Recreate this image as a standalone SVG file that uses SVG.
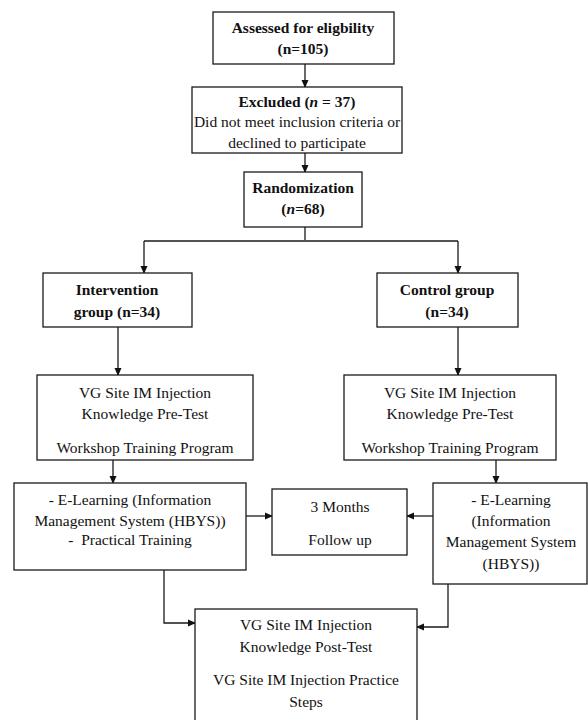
<svg xmlns="http://www.w3.org/2000/svg" width="588" height="720" viewBox="0 0 588 720">
<style>
.box{fill:#fff;stroke:#1a1a1a;stroke-width:1.3}
.t{font-family:"Liberation Serif","Times New Roman",serif;font-size:15.5px;fill:#111;text-anchor:middle}
.b{font-weight:bold}
.c{fill:none;stroke:#1a1a1a;stroke-width:1.3}
</style>
<defs>
<marker id="ah" markerWidth="8" markerHeight="8" refX="7" refY="4" orient="auto" markerUnits="userSpaceOnUse">
<path d="M0,0.5 L8,4 L0,7.5 Z" fill="#111"/>
</marker>
</defs>
<rect width="588" height="720" fill="#fff"/>
<g id="connectors">
<path class="c" d="M305,64 V87" marker-end="url(#ah)"/>
<path class="c" d="M305,153 V172" marker-end="url(#ah)"/>
<path class="c" d="M305,227 V240"/>
<path class="c" d="M144,241 H458"/>
<path class="c" d="M144,241 V273" marker-end="url(#ah)"/>
<path class="c" d="M458,241 V273" marker-end="url(#ah)"/>
<path class="c" d="M118,327 V375" marker-end="url(#ah)"/>
<path class="c" d="M458,327 V375" marker-end="url(#ah)"/>
<path class="c" d="M113,460 V483" marker-end="url(#ah)"/>
<path class="c" d="M496,460 V483" marker-end="url(#ah)"/>
<path class="c" d="M246,516 H272" marker-end="url(#ah)"/>
<path class="c" d="M433,516 H407" marker-end="url(#ah)"/>
<path class="c" d="M164,570 V623 H195" marker-end="url(#ah)"/>
<path class="c" d="M448,584 V627 H417" marker-end="url(#ah)"/>
</g>
<g id="assessed">
<rect class="box" x="213" y="12" width="181" height="52"/>
<text class="t b" x="303" y="33">Assessed for eligbility</text>
<text class="t b" x="303" y="54">(n=105)</text>
</g>
<g id="excluded">
<rect class="box" x="192" y="87" width="210" height="66"/>
<text class="t" x="297" y="107"><tspan class="b">Excluded (</tspan><tspan class="b" font-style="italic">n</tspan><tspan class="b"> = 37)</tspan></text>
<text class="t" x="297" y="127">Did not meet inclusion criteria or</text>
<text class="t" x="297" y="148">declined to participate</text>
</g>
<g id="randomization">
<rect class="box" x="244" y="172" width="118" height="55"/>
<text class="t b" x="303" y="193">Randomization</text>
<text class="t b" x="303" y="214">(<tspan font-style="italic">n</tspan>=68)</text>
</g>
<g id="intervention">
<rect class="box" x="43" y="273" width="149" height="54"/>
<text class="t b" x="117" y="295">Intervention</text>
<text class="t b" x="117" y="317">group (n=34)</text>
</g>
<g id="control">
<rect class="box" x="377" y="273" width="141" height="54"/>
<text class="t b" x="447" y="295">Control group</text>
<text class="t b" x="447" y="317">(n=34)</text>
</g>
<g id="pretest-left">
<rect class="box" x="37" y="375" width="216" height="85"/>
<text class="t" x="145" y="398">VG Site IM Injection</text>
<text class="t" x="145" y="419">Knowledge Pre-Test</text>
<text class="t" x="145" y="453">Workshop Training Program</text>
</g>
<g id="pretest-right">
<rect class="box" x="344" y="375" width="212" height="85"/>
<text class="t" x="450" y="398">VG Site IM Injection</text>
<text class="t" x="450" y="419">Knowledge Pre-Test</text>
<text class="t" x="450" y="453">Workshop Training Program</text>
</g>
<g id="elearning-left">
<rect class="box" x="14" y="483" width="232" height="87"/>
<text class="t" x="130" y="505">- E-Learning (Information</text>
<text class="t" x="130" y="526">Management System (HBYS))</text>
<text class="t" x="130" y="545" xml:space="preserve">-  Practical Training</text>
</g>
<g id="followup">
<rect class="box" x="272" y="489" width="135" height="66"/>
<text class="t" x="340" y="512">3 Months</text>
<text class="t" x="340" y="545">Follow up</text>
</g>
<g id="elearning-right">
<rect class="box" x="433" y="483" width="154" height="101"/>
<text class="t" x="511" y="505">- E-Learning</text>
<text class="t" x="511" y="526">(Information</text>
<text class="t" x="511" y="547">Management System</text>
<text class="t" x="511" y="569">(HBYS))</text>
</g>
<g id="posttest">
<rect class="box" x="195" y="609" width="222" height="120"/>
<text class="t" x="306" y="630">VG Site IM Injection</text>
<text class="t" x="306" y="652">Knowledge Post-Test</text>
<text class="t" x="306" y="685">VG Site IM Injection Practice</text>
<text class="t" x="306" y="707">Steps</text>
</g>
</svg>
